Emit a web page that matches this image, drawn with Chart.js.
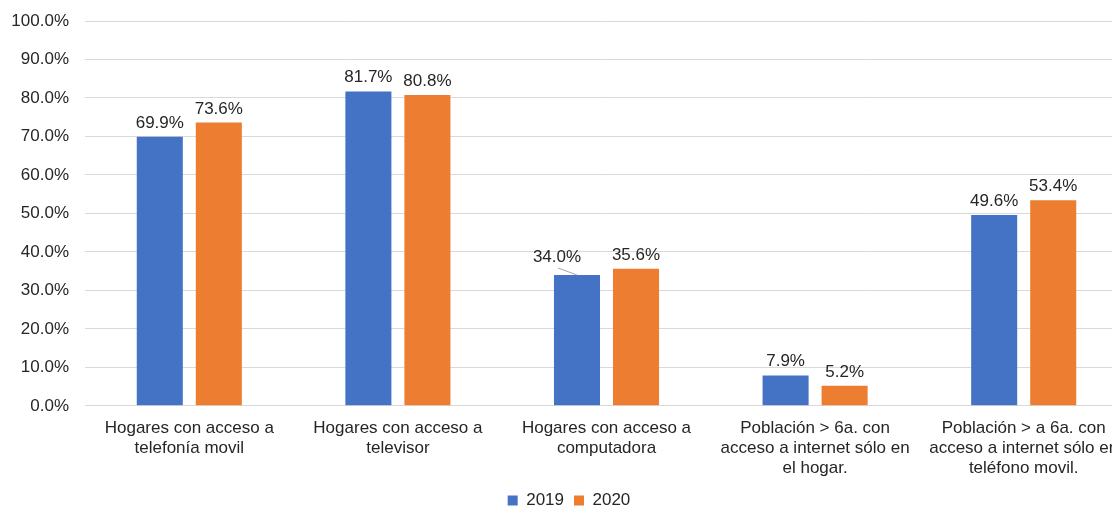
<!DOCTYPE html>
<html>
<head>
<meta charset="utf-8">
<script src="https://cdn.jsdelivr.net/npm/chart.js@4"></script>
<style>
  html, body { margin: 0; padding: 0; background: #fff; overflow: hidden; }
  #wrap { width: 1128px; height: 508px; position: relative; }
</style>
</head>
<body>
<div id="wrap"><canvas id="myChart"></canvas></div>
<script>
const categories = [
    ['Hogares con acceso a', 'telefonía movil'],
    ['Hogares con acceso a', 'televisor'],
    ['Hogares con acceso a', 'computadora'],
    ['Población > 6a. con', 'acceso a internet sólo en', 'el hogar.'],
    ['Población > a 6a. con', 'acceso a internet sólo en', 'teléfono movil.'],
];
const values2019 = [69.9, 81.7, 34.0, 7.9, 49.6];
const values2020 = [73.6, 80.8, 35.6, 5.2, 53.4];
const seriesNames = ['2019', '2020'];

const textColor = '#262626';
const fontFamily = '"Liberation Sans", Arial, sans-serif';

// labels above bars (label 34.0% is pulled left with a leader line)
const barLabels = {
    id: 'barLabels',
    afterDatasetsDraw(chart) {
        const ctx = chart.ctx;
        ctx.save();
        ctx.font = '17px ' + fontFamily;
        ctx.fillStyle = textColor;
        ctx.textAlign = 'center';
        ctx.textBaseline = 'alphabetic';
        chart.data.datasets.forEach((ds, di) => {
            chart.getDatasetMeta(di).data.forEach((bar, i) => {
                let x = bar.x;
                let y = bar.y - 9;
                if (di === 0 && i === 2) {
                    x -= 20;
                    y -= 4;
                    ctx.beginPath();
                    ctx.moveTo(x + 1, y + 6);
                    ctx.lineTo(bar.x, bar.y);
                    ctx.lineWidth = 1;
                    ctx.strokeStyle = '#a6a6a6';
                    ctx.stroke();
                }
                ctx.fillText(ds.data[i].toFixed(1) + '%', x, y);
            });
        });
        ctx.restore();
    },
};

const config = {
    type: 'bar',
    data: {
        labels: categories,
        datasets: [
            {
                label: seriesNames[0],
                data: values2019,
                backgroundColor: '#4472C4',
                categoryPercentage: 0.566,
                barPercentage: 0.78,
            },
            {
                label: seriesNames[1],
                data: values2020,
                backgroundColor: '#ED7D31',
                categoryPercentage: 0.566,
                barPercentage: 0.78,
            },
        ],
    },
    options: {
        responsive: true,
        maintainAspectRatio: false,
        animation: false,
        layout: {
            padding: { top: 21, left: 10, right: 0, bottom: -11 },
        },
        scales: {
            x: {
                grid: { display: false },
                border: { color: '#d9d9d9' },
                ticks: {
                    color: textColor,
                    font: { family: fontFamily, size: 17, lineHeight: 1.18 },
                    maxRotation: 0,
                    autoSkip: false,
                    padding: 4,
                },
            },
            y: {
                min: 0,
                max: 100,
                grid: { color: '#d9d9d9', drawTicks: false },
                border: { display: false },
                afterFit: (scale) => {
                    scale.width = 75;
                    scale.paddingTop = 0;
                    scale.paddingBottom = 0;
                },
                ticks: {
                    stepSize: 10,
                    color: textColor,
                    padding: 16,
                    font: { family: fontFamily, size: 17 },
                    callback: (v) => v.toFixed(1) + '%',
                },
            },
        },
        plugins: {
            legend: {
                position: 'bottom',
                labels: {
                    color: textColor,
                    boxWidth: 10,
                    boxHeight: 10,
                    padding: 10,
                    font: { family: fontFamily, size: 17 },
                },
            },
            tooltip: { enabled: false },
        },
    },
    plugins: [barLabels],
};

const myChart = new Chart(document.getElementById('myChart'), config);
</script>
</body>
</html>
